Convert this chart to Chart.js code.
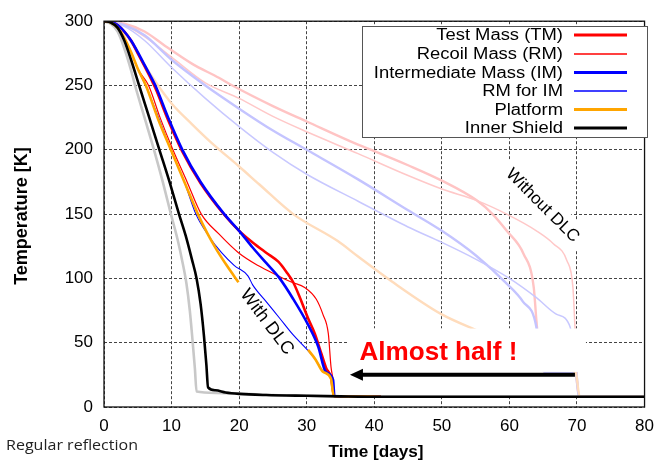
<!DOCTYPE html>
<html><head><meta charset="utf-8">
<script src="https://cdn.jsdelivr.net/npm/chart.js@4.4.0/dist/chart.umd.min.js"></script>
<style>html,body{margin:0;padding:0;background:#fff;overflow:hidden}</style>
</head><body>
<canvas id="c" width="663" height="461"></canvas>
<script>
// ---- Data (days, temperature K) ----
// With DLC
const tmDays   = [0,1,2,3,4,5,6,7.6,9.5,11.6,14.3,17.8,20,22,24,25.8,27,28,29,30.2,31.2,32.2,32.9,33.6,34.05,36,41];
const tmTemp   = [300,299.5,297,292,285,275,265,248,223,198.5,174,149.5,137,128,120,113,105,97,85,69,57,41,30,23,8.5,8.2,8];
const rmDays   = [0,1,2,3,4,5,6.6,8.3,10.2,12.3,14.4,17,19.9,22.8,25.8,27.8,29.7,31.4,32.4,33.2,33.6,33.9,34.1,36,41];
const rmTemp   = [300,299,295,287,276,263,250,225,200,175,150,134.6,120,110,102,97,93,84,72,57,31,21,8.5,8.2,8];
const imDays   = [0,1,2,3,4,5,6,7.6,9.5,11.6,14.3,17.8,20,22,24,26,28,30.2,31.7,32.8,33.9,34.1,36,41];
const imTemp   = [300,299.5,297,292,285,276,266,250,225,200,175,150,137,124,112,100,84,64,47,27.5,21,8.5,8.2,8];
const rmimDays = [0,1,2,3,4,5,6.4,8,9.9,11.9,13.6,15.5,17.4,19.3,21.3,22,24,26,28,30,31.3,32.4,33.6,34,36,41];
const rmimTemp = [300,299,295,287,276,263,247,226,200,175,150,133,120,110,102,95,82,69,56,45,37,28,23,8.5,8.2,8];
const plDays   = [0,1,2,3,4,5,6.2,8,9.9,11.9,13.9,15.3,16.7,18.3,19.9,25,30.2,31.3,32.4,33.6,34,36,41];
const plTemp   = [300,299,295,287,276,263,250,224,200,175,150,135,122,109,97,null,44.5,37,27.4,22,8.5,8.2,8];
const isDays   = [0,1,2,3,4,5.2,6.7,8.2,9.7,11.1,12.1,13,13.7,14.3,14.8,15.15,15.4,16.5,18,20,24,30,35,41,80];
const isTemp   = [300,299,295,285,270,250,225,200,175,150,133,115,100,80,55,33,15.3,13,11.3,10.2,9.3,8.7,8.3,8,8];
// Without DLC
const tmNoDays   = [0,3,6,9,13,17,19,25,30,37.6,40,45,50,55.2,57.5,59.6,62.1,63.6,64,64.6,65.5,69.8,70.3,80];
const tmNoTemp   = [300,298,292,281,267,256,250,234,222,204,199,188,176,160.5,150,137,119,93,67,35,27,26,8,8];
const rmNoDays   = [0,3,6,10,15,20,25,30,37.6,45,50,55.2,59.6,64,66.5,68.5,69.4,69.7,70,70.3,80];
const rmNoTemp   = [300,297,288,272,252,240,226,214,197,180,169.5,160.5,150,137,127,114,93,62,27,8,8];
const imNoDays   = [0,3,6,10,15,20,25,30,37.6,45,50,55,59.6,62,64,64.6,65.5,69.8,70.3,80];
const imNoTemp   = [300,297,289,270,250,232,215,200,177,153,137,118,96,82,62,35,27,26,8,8];
const rmimNoDays = [0,3,6,10,15,20,25,30,37.6,45,50,55,60,64,67,69,69.6,70,70.3,80];
const rmimNoTemp = [300,296,285,264,240,218,198,181,160,140,128,115,100,85,72,62,35,26,8,8];
const plNoDays   = [0,2,4,6,8,10,13,16,20,23,28,34.6,37.6,42.5,50,55,60,64,67,69.8,70.4,80];
const plNoTemp   = [300,296,284,266,250,236,220,205,187,173,150,129,117,98,72,60,49,40,31,27,8,8];
const isNoDays   = [0,1,2,3,4,4.6,6,7.4,8.7,9.9,10.9,11.6,12.2,12.7,13.1,13.45,13.7,16.5,20,25,30,41,80];
const isNoTemp   = [300,298,292,279,262,250,225,200,175,150,130,113,96,75,52,30,12,11,10.5,9.3,8.7,8,8];

const xTicks = [0,10,20,30,40,50,60,70,80];
const yTicks = [0,50,100,150,200,250,300];
const legendLabels = ['Test Mass (TM)','Recoil Mass (RM)','Intermediate Mass (IM)','RM for IM','Platform','Inner Shield'];
const annoWith = 'With DLC', annoWithout = 'Without DLC', annoHalf = 'Almost half !';

function pts(d,t){return d.map((v,i)=>({x:v,y:t[i]}));}
function ds(label,d,t,color,w,order,legendIdx){
  return {label,data:pts(d,t),borderColor:color,backgroundColor:color,borderWidth:w,pointRadius:0,
    cubicInterpolationMode:'monotone',spanGaps:false,fill:false,order,legendIdx};
}
const datasets = [
  ds(legendLabels[0],tmDays,tmTemp,'#ff0000',2.6,5,0),
  ds(legendLabels[1],rmDays,rmTemp,'#ff0000',1.2,4,1),
  ds(legendLabels[2],imDays,imTemp,'#0000ff',2.6,3,2),
  ds(legendLabels[3],rmimDays,rmimTemp,'#0000ff',1.1,2,3),
  ds(legendLabels[4],plDays,plTemp,'#ffa500',2.6,1,4),
  ds(legendLabels[5],isDays,isTemp,'#000000',2.6,0,5),
  ds('TM w/o DLC',tmNoDays,tmNoTemp,'#ffc4c4',2.4,15,-1),
  ds('RM w/o DLC',rmNoDays,rmNoTemp,'#ffc8c8',1.5,14,-1),
  ds('IM w/o DLC',imNoDays,imNoTemp,'#c4c4ff',2.4,13,-1),
  ds('RM for IM w/o DLC',rmimNoDays,rmimNoTemp,'#c8c8ff',1.5,12,-1),
  ds('Platform w/o DLC',plNoDays,plNoTemp,'#ffdcbc',2.4,11,-1),
  ds('Inner Shield w/o DLC',isNoDays,isNoTemp,'#c8c8c8',2.6,10,-1)
];

const FONT = "'Liberation Sans', Arial, sans-serif";
Chart.defaults.font.family = FONT;

function fitText(ctx,text,x,y,font,targetW,align){
  ctx.save();
  ctx.font = font;
  const w = ctx.measureText(text).width;
  const s = targetW ? targetW / w : 1;
  ctx.translate(x,y);
  ctx.scale(s,1);
  ctx.textAlign = align||'left';
  ctx.fillText(text,0,0);
  ctx.restore();
}
function rotBox(ctx,cx,cy,ang,w,h){
  ctx.save(); ctx.translate(cx,cy); ctx.rotate(ang*Math.PI/180);
  ctx.fillStyle='#fff'; ctx.fillRect(-w/2,-h/2,w,h); ctx.restore();
}
function rotText(ctx,text,cx,cy,ang,font){
  ctx.save(); ctx.translate(cx,cy); ctx.rotate(ang*Math.PI/180);
  ctx.font=font; ctx.fillStyle='#000'; ctx.textAlign='center'; ctx.textBaseline='middle';
  ctx.fillText(text,0,0); ctx.restore();
}

const deco = {
  id:'deco',
  beforeDatasetsDraw(chart){
    const {ctx,scales:{x,y}} = chart;
    ctx.save();
    rotBox(ctx,x.getPixelForValue(24.1),y.getPixelForValue(66),53,100,30);
    rotBox(ctx,x.getPixelForValue(64.9),y.getPixelForValue(156.6),45,112,28);
    ctx.fillStyle='#fff';
    const x1=x.getPixelForValue(28.5), x2=x.getPixelForValue(71.3);
    ctx.fillRect(x1,y.getPixelForValue(46),x2-x1,y.getPixelForValue(7.5)-y.getPixelForValue(46));
    const x3=x.getPixelForValue(36.1);
    ctx.fillRect(x3,y.getPixelForValue(61),x2-x3,y.getPixelForValue(46)-y.getPixelForValue(61));
    ctx.restore();
  },
  afterDatasetsDraw(chart){
    const {ctx,chartArea:a,scales:{x,y}} = chart;
    ctx.save();
    const bx1=x.getPixelForValue(36.1), bx2=x.getPixelForValue(71.3);
    const by1=y.getPixelForValue(61), by2=y.getPixelForValue(27.3);
    ctx.fillStyle='#fff'; ctx.fillRect(bx1,by1,bx2-bx1,by2-by1);
    const ay=y.getPixelForValue(25), tip=x.getPixelForValue(36.4), tail=x.getPixelForValue(69.7);
    ctx.strokeStyle='#000'; ctx.lineWidth=4;
    ctx.beginPath(); ctx.moveTo(tail,ay); ctx.lineTo(tip+10,ay); ctx.stroke();
    ctx.fillStyle='#000'; ctx.beginPath();
    ctx.moveTo(tip,ay); ctx.lineTo(tip+13,ay-6); ctx.lineTo(tip+13,ay+6); ctx.closePath(); ctx.fill();
    ctx.fillStyle='#ff0000'; ctx.textBaseline='alphabetic';
    fitText(ctx,annoHalf,x.getPixelForValue(37.8),y.getPixelForValue(36.4),"bold 25px "+FONT,158,'left');
    rotText(ctx,annoWith,x.getPixelForValue(24.1),y.getPixelForValue(66),53,"18px "+FONT);
    rotText(ctx,annoWithout,x.getPixelForValue(64.9),y.getPixelForValue(156.6),45,"17px "+FONT);
    ctx.strokeStyle='#111'; ctx.lineWidth=1.3;
    ctx.strokeRect(a.left,a.top,a.right-a.left,a.bottom-a.top);
    const L=362,T=26,R=647,B=137;
    ctx.fillStyle='#fff'; ctx.fillRect(L,T,R-L,B-T);
    ctx.strokeStyle='#555'; ctx.lineWidth=1; ctx.strokeRect(L+0.5,T+0.5,R-L,B-T);
    const rows=[35,54,72.5,91,109.5,128];
    chart.data.datasets.filter(d=>d.legendIdx>=0).sort((p,q)=>p.legendIdx-q.legendIdx).forEach((d,i)=>{
      ctx.fillStyle='#000'; ctx.textBaseline='middle';
      ctx.save(); ctx.font="16px "+FONT; ctx.translate(563,rows[i]+1); ctx.scale(1.15,1);
      ctx.textAlign='right'; ctx.fillText(d.label,0,0); ctx.restore();
      ctx.strokeStyle=d.borderColor; ctx.lineWidth=d.borderWidth>2?3:1.3;
      ctx.beginPath(); ctx.moveTo(574,rows[i]); ctx.lineTo(627,rows[i]); ctx.stroke();
    });
    ctx.restore();
  },
  afterDraw(chart){
    const {ctx} = chart;
    ctx.save();
    ctx.fillStyle='#000'; ctx.textBaseline='middle';
    ctx.save(); ctx.translate(22,216); ctx.rotate(-Math.PI/2);
    ctx.font="bold 18px "+FONT; ctx.textAlign='center'; ctx.fillText('Temperature [K]',0,0); ctx.restore();
    fitText(ctx,'Time [days]',376,453,"bold 16px "+FONT,95,'center');
    ctx.fillStyle='#222';
    fitText(ctx,'Regular reflection',6,446,"14px 'Open Sans', sans-serif",132,'left');
    ctx.restore();
  }
};

new Chart(document.getElementById('c'),{
  type:'line',
  data:{datasets},
  options:{
    responsive:false, animation:false, events:[],
    layout:{padding:{top:20,right:14,left:0,bottom:0}},
    plugins:{legend:{display:false},tooltip:{enabled:false}},
    scales:{
      x:{type:'linear',min:0,max:80,
        afterFit:s=>{s.height=54;},
        afterBuildTicks:s=>{s.ticks=xTicks.map(v=>({value:v}));},
        ticks:{color:'#000',font:{size:17},padding:9,maxRotation:0},
        grid:{color:'#444',lineWidth:1,drawTicks:false},
        border:{display:false,dash:[3,2]}},
      y:{type:'linear',min:0,max:300,
        afterFit:s=>{s.width=104;},
        afterBuildTicks:s=>{s.ticks=yTicks.map(v=>({value:v}));},
        ticks:{color:'#000',font:{size:17},padding:11},
        grid:{color:'#444',lineWidth:1,drawTicks:false},
        border:{display:false,dash:[3,2]}}
    }
  },
  plugins:[deco]
});
</script>
</body></html>
